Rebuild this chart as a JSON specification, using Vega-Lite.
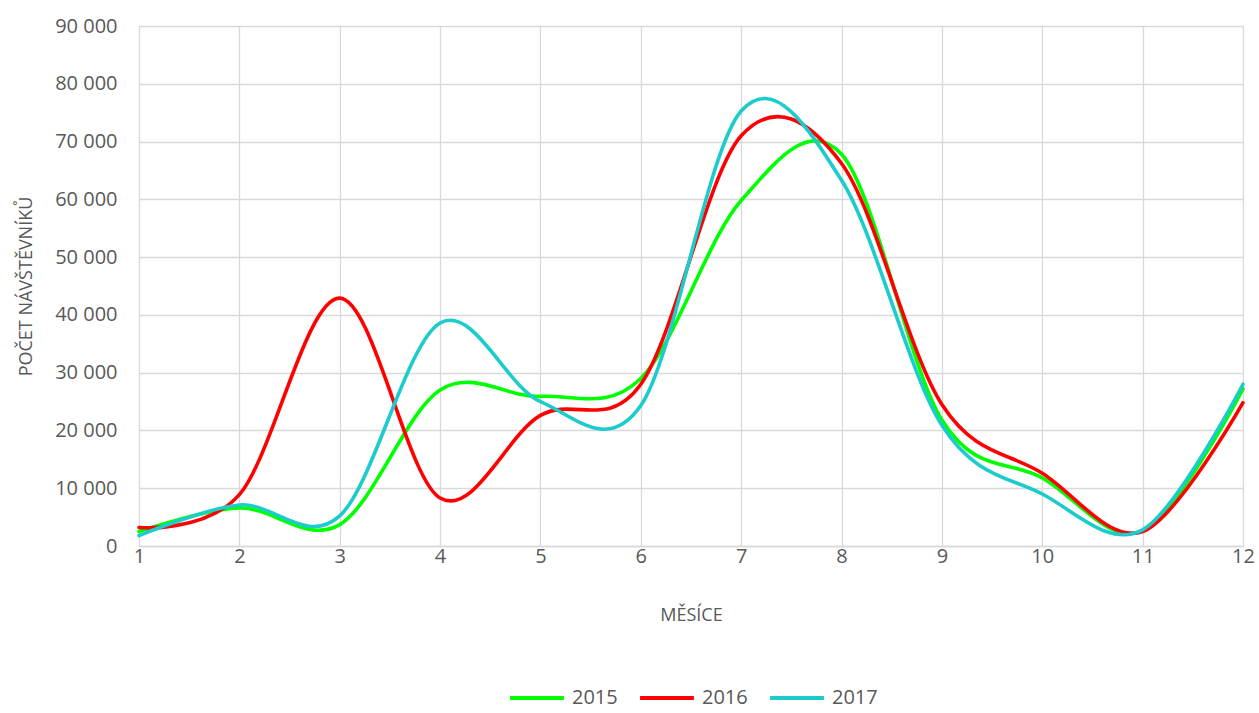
{
  "$schema": "https://vega.github.io/schema/vega-lite/v6.json",
  "autosize": {"type": "none"},
  "width": 1104,
  "height": 520,
  "padding": {"left": 139, "top": 26, "right": 16, "bottom": 167},
  "background": "white",
  "config": {
    "font": "Open Sans",
    "view": {"stroke": null},
    "axis": {
      "labelFont": "Open Sans", "labelFontSize": 20, "labelColor": "#595959",
      "titleFont": "Open Sans", "titleFontSize": 18, "titleColor": "#595959", "titleFontWeight": "normal",
      "gridColor": "#d9d9d9", "gridWidth": 1.3, "domainColor": "#d9d9d9", "domainWidth": 1.3, "ticks": false,
      "labelOverlap": false
    },
    "legend": {"labelFont": "Open Sans", "labelFontSize": 20, "labelColor": "#595959"}
  },
  "data": {"values": [
    {"m": 1, "y": "2015", "v": 2500}, {"m": 2, "y": "2015", "v": 6600}, {"m": 3, "y": "2015", "v": 3700},
    {"m": 4, "y": "2015", "v": 27000}, {"m": 5, "y": "2015", "v": 25900}, {"m": 6, "y": "2015", "v": 29000},
    {"m": 7, "y": "2015", "v": 59800}, {"m": 8, "y": "2015", "v": 67800}, {"m": 9, "y": "2015", "v": 21800},
    {"m": 10, "y": "2015", "v": 11800}, {"m": 11, "y": "2015", "v": 2600}, {"m": 12, "y": "2015", "v": 27200},
    {"m": 1, "y": "2016", "v": 3200}, {"m": 2, "y": "2016", "v": 8900}, {"m": 3, "y": "2016", "v": 42900},
    {"m": 4, "y": "2016", "v": 8300}, {"m": 5, "y": "2016", "v": 22600}, {"m": 6, "y": "2016", "v": 28000},
    {"m": 7, "y": "2016", "v": 71000}, {"m": 8, "y": "2016", "v": 66200}, {"m": 9, "y": "2016", "v": 24500},
    {"m": 10, "y": "2016", "v": 12600}, {"m": 11, "y": "2016", "v": 2500}, {"m": 12, "y": "2016", "v": 24800},
    {"m": 1, "y": "2017", "v": 1800}, {"m": 2, "y": "2017", "v": 7100}, {"m": 3, "y": "2017", "v": 5200},
    {"m": 4, "y": "2017", "v": 38600}, {"m": 5, "y": "2017", "v": 25000}, {"m": 6, "y": "2017", "v": 24300},
    {"m": 7, "y": "2017", "v": 75300}, {"m": 8, "y": "2017", "v": 63300}, {"m": 9, "y": "2017", "v": 20900},
    {"m": 10, "y": "2017", "v": 9000}, {"m": 11, "y": "2017", "v": 2800}, {"m": 12, "y": "2017", "v": 28000}
  ]},
  "mark": {"type": "line", "interpolate": "cardinal", "strokeWidth": 3.6, "strokeCap": "round"},
  "encoding": {
    "x": {
      "field": "m", "type": "quantitative",
      "scale": {"domain": [1, 12], "nice": false, "zero": false},
      "axis": {"title": "MĚSÍCE", "values": [1,2,3,4,5,6,7,8,9,10,11,12], "labelPadding": 0, "titlePadding": 40, "labelFlush": false}
    },
    "y": {
      "field": "v", "type": "quantitative",
      "scale": {"domain": [0, 90000], "nice": false},
      "axis": {"title": "POČET NÁVŠTĚVNÍKŮ", "values": [0,10000,20000,30000,40000,50000,60000,70000,80000,90000],
        "labelExpr": "replace(format(datum.value, ','), ',', ' ')", "labelPadding": 22, "titlePadding": 19, "domain": false}
    },
    "color": {
      "field": "y", "type": "nominal",
      "scale": {"domain": ["2015", "2016", "2017"], "range": ["#00ff00", "#ff0000", "#1ccbcb"]},
      "legend": {"title": null, "orient": "none", "direction": "horizontal", "legendX": 369, "legendY": 643,
        "symbolType": "stroke", "symbolSize": 2900, "symbolStrokeWidth": 4, "columnPadding": 14, "labelOffset": 6}
    }
  }
}
